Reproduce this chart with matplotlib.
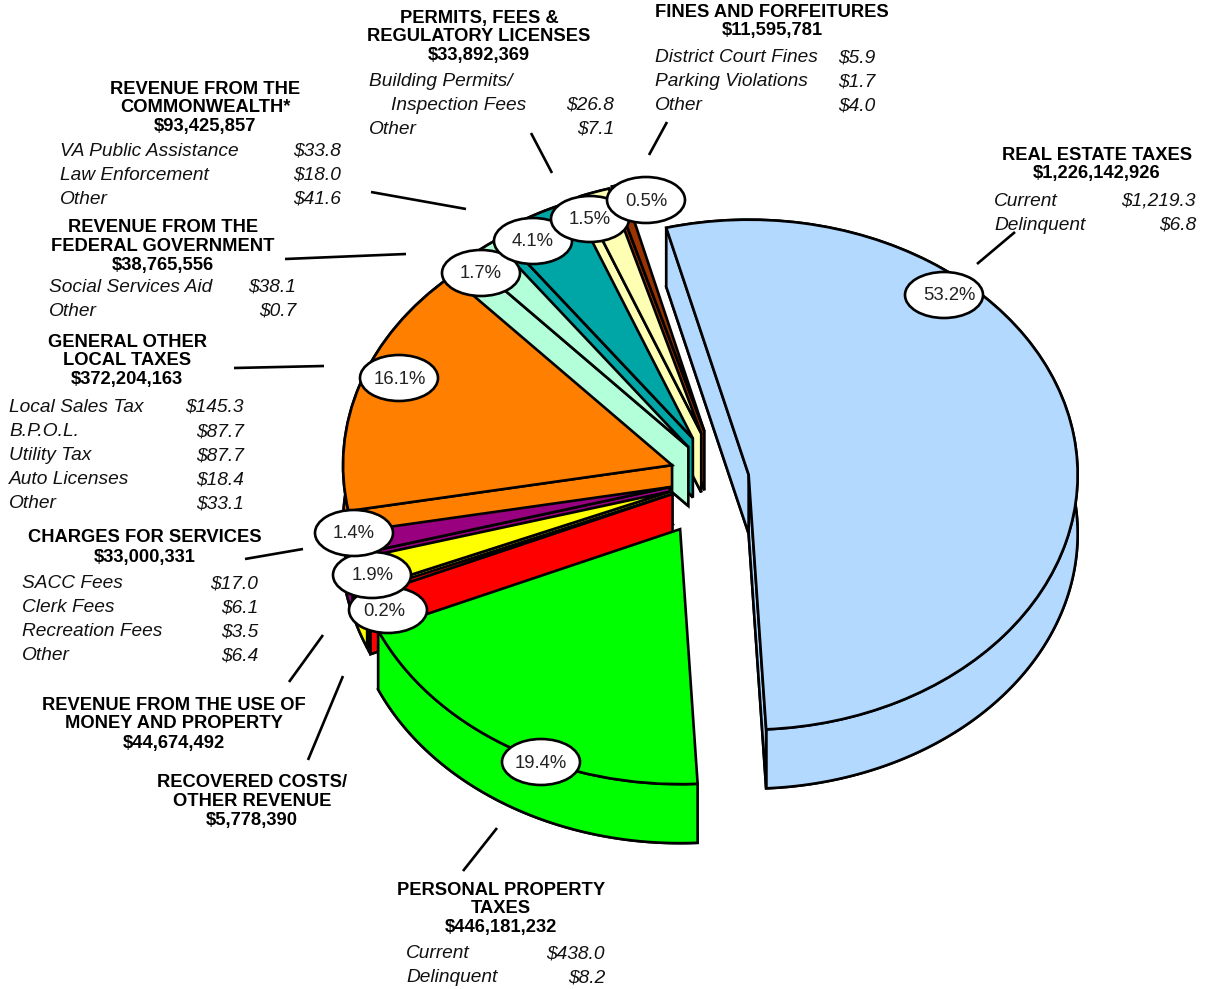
import numpy as np
import matplotlib
matplotlib.use("Agg")
import matplotlib.pyplot as plt
from matplotlib.patches import Ellipse, Polygon

# ---------- data ----------
slice_names = ["Real Estate", "Personal Property", "Recovered Costs", "Use of Money",
               "Charges for Services", "General Other Local", "Federal",
               "Commonwealth", "Permits", "Fines"]
slice_values = [1226142926, 446181232, 5778390, 44674492, 33000331,
                372204163, 38765556, 93425857, 33892369, 11595781]
slice_colors = ["#B3D9FF", "#00FF00", "#FF0000", "#FFFF00", "#990080",
                "#FF8000", "#B3FFD9", "#00A6A6", "#FFFFB3", "#993300"]
slice_explode = [0.085, 0.236, 0.16, 0.16, 0.16, 0.157, 0.157, 0.177, 0.185, 0.19]
pct_labels = ["53.2%", "19.4%", "0.2%", "1.9%", "1.4%", "16.1%", "1.7%", "4.1%", "1.5%", "0.5%"]
bubble_xy = [(944, 295), (541, 762), (388, 610), (372, 575), (354, 533),
             (399, 378), (481, 273), (533, 241), (590, 219), (646, 200)]
label_dx = [5, 0, -4, 1, 0, 1, 0, 0, 0, 0]
paint_order = [0, 9, 8, 7, 6, 5, 4, 3, 2, 1]

# (centre x, [(line, baseline y)...])
headers = [
    (1097, [("REAL ESTATE TAXES", 160), ("$1,226,142,926", 178)]),
    (772, [("FINES AND FORFEITURES", 17), ("$11,595,781", 35)]),
    (479, [("PERMITS, FEES &", 23), ("REGULATORY LICENSES", 41), ("$33,892,369", 60)]),
    (205, [("REVENUE FROM THE", 94), ("COMMONWEALTH*", 112), ("$93,425,857", 131)]),
    (163, [("REVENUE FROM THE", 232), ("FEDERAL GOVERNMENT", 251), ("$38,765,556", 270)]),
    (127, [("GENERAL OTHER", 347), ("LOCAL TAXES", 365), ("$372,204,163", 384)]),
    (145, [("CHARGES FOR SERVICES", 542), ("$33,000,331", 562)]),
    (174, [("REVENUE FROM THE USE OF", 710), ("MONEY AND PROPERTY", 728), ("$44,674,492", 748)]),
    (252, [("RECOVERED COSTS/", 787), ("OTHER REVENUE", 806), ("$5,778,390", 825)]),
    (501, [("PERSONAL PROPERTY", 895), ("TAXES", 913), ("$446,181,232", 932)]),
]
# (left x, right x, [(name, indent, value, baseline y)...])
detail_rows = [
    (994, 1196, [("Current", 0, "$1,219.3", 205.5), ("Delinquent", 0, "$6.8", 229.5)]),
    (655, 875, [("District Court Fines", 0, "$5.9", 62.5), ("Parking Violations", 0, "$1.7", 86.5),
                ("Other", 0, "$4.0", 110.5)]),
    (369, 614, [("Building Permits/", 0, "", 86.5), ("Inspection Fees", 22, "$26.8", 109.5),
                ("Other", 0, "$7.1", 133.5)]),
    (60, 341, [("VA Public Assistance", 0, "$33.8", 155.5), ("Law Enforcement", 0, "$18.0", 179.5),
               ("Other", 0, "$41.6", 203.5)]),
    (49, 296, [("Social Services Aid", 0, "$38.1", 291.5), ("Other", 0, "$0.7", 315.5)]),
    (9, 244, [("Local Sales Tax", 0, "$145.3", 411.5), ("B.P.O.L.", 0, "$87.7", 436.5),
              ("Utility Tax", 0, "$87.7", 460.5), ("Auto Licenses", 0, "$18.4", 484.5),
              ("Other", 0, "$33.1", 508.5)]),
    (22, 258, [("SACC Fees", 0, "$17.0", 588.5), ("Clerk Fees", 0, "$6.1", 612.5),
               ("Recreation Fees", 0, "$3.5", 636.5), ("Other", 0, "$6.4", 660.5)]),
    (406, 605, [("Current", 0, "$438.0", 958.5), ("Delinquent", 0, "$8.2", 982.5)]),
]
leaders = [((977, 264), (1015, 232)), ((649, 155), (667, 122)), ((552, 173), (531, 133)),
           ((466, 209), (371, 192)), ((406, 254), (285, 259)), ((324, 366), (234, 368)),
           ((303, 549), (245, 559)), ((323, 635), (289, 682)), ((343, 676), (308, 760)),
           ((497, 828), (463, 871))]

# ---------- layout ----------
W, H = 1209, 989
CX, CY = 721, 478      # pie centre, pixels
RX, RY = 329, 255      # pie radii, pixels
DEPTH = 59 / RY        # extrusion, data units
LW = 1.9

plt.rcParams["font.family"] = ["Liberation Sans", "DejaVu Sans"]
fig = plt.figure(figsize=(W / 100, H / 100), dpi=100, facecolor="white")
ax = fig.add_axes([0, 0, 1, 1])
wedges, _ = ax.pie(slice_values, colors=slice_colors, explode=slice_explode, startangle=104.5,
                   counterclock=False, wedgeprops=dict(edgecolor="black", linewidth=LW,
                                                       joinstyle="miter"))
ax.set_aspect("auto")
ax.set_xlim(-CX / RX, (W - CX) / RX)
ax.set_ylim((CY - H) / RY, CY / RY)
ax.axis("off")

for rank, idx in enumerate(paint_order):
    w = wedges[idx]
    z = 2 + rank
    cx, cy = w.center
    t = np.radians(np.linspace(w.theta1, w.theta2, 200))
    arc = np.column_stack([cx + w.r * np.cos(t), cy + w.r * np.sin(t)])
    low = arc - [0, DEPTH]
    apex = np.array([cx, cy])
    apex_low = apex - [0, DEPTH]
    kw = dict(facecolor=slice_colors[idx], edgecolor="black", linewidth=LW,
              joinstyle="miter", zorder=z)
    # bottom face and outer rim, then the cut faces turned towards the viewer, then the top
    ax.add_patch(Polygon(np.vstack([apex_low, low]), closed=True, **kw))
    ax.add_patch(Polygon(np.vstack([arc, low[::-1]]), closed=True, **kw))
    for end, normal in ((arc[0], w.theta1 - 90), (arc[-1], w.theta2 + 90)):
        if np.sin(np.radians(normal)) < 0:
            ax.add_patch(Polygon([apex, end, end - [0, DEPTH], apex_low], closed=True, **kw))
    w.set_zorder(z + 0.5)

# ---------- annotation layer in pixels ----------
ov = fig.add_axes([0, 0, 1, 1], facecolor="none")
ov.set_xlim(0, W)
ov.set_ylim(H, 0)
ov.axis("off")

for (a, b) in leaders:
    ov.plot([a[0], b[0]], [a[1], b[1]], color="black", lw=LW, solid_capstyle="butt")

for txt, (x, y), dx in zip(pct_labels, bubble_xy, label_dx):
    ov.add_patch(Ellipse((x, y), 78, 46, facecolor="white", edgecolor="black", linewidth=LW, zorder=5))
    ov.text(x + dx, y + 1, txt, ha="center", va="center", fontsize=13.3, color="#222222", zorder=6)

for cx_, lines in headers:
    for s, y in lines:
        ov.text(cx_, y, s, ha="center", va="baseline", fontsize=13.2, fontweight="bold", color="black")

for lx, rx, rows in detail_rows:
    for name, ind, val, y in rows:
        ov.text(lx + ind, y, name, ha="left", va="baseline", fontsize=13.8, fontstyle="italic", color="#111111")
        if val:
            ov.text(rx, y, val, ha="right", va="baseline", fontsize=13.8, fontstyle="italic", color="#111111")

fig.savefig("out.png", dpi=100)
